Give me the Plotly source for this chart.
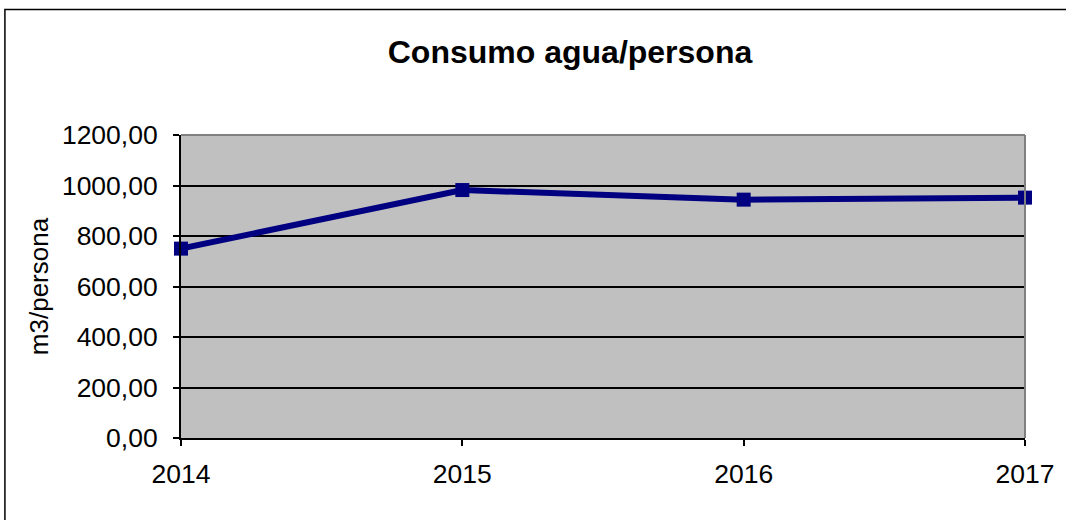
import plotly.graph_objects as go

years = [2014, 2015, 2016, 2017]
consumo = [750, 982, 944, 952]
y_ticks = [0, 200, 400, 600, 800, 1000, 1200]

FONT = "Liberation Sans, Arial, sans-serif"

fig = go.Figure()
fig.add_trace(go.Scatter(
    x=years, y=consumo, mode="lines+markers",
    line=dict(color="#000080", width=6),
    marker=dict(symbol="square", size=14, color="#000080"),
    cliponaxis=False, showlegend=False,
))

L, R, T, B = 181, 39, 135, 82
W, H = 1066, 520
pw, ph = W - L - R, H - T - B

fig.update_layout(
    width=W, height=H,
    margin=dict(l=L, r=R, t=T, b=B),
    paper_bgcolor="white", plot_bgcolor="#C0C0C0",
    separators=",.",
    font=dict(family=FONT, size=26, color="black"),
    title=dict(text="<b>Consumo agua/persona</b>", x=570 / W, xanchor="center",
               y=1 - 52 / H, yanchor="middle", xref="container", yref="container",
               font=dict(family=FONT, size=32, color="black")),
    xaxis=dict(range=[2014, 2017], tickvals=years, ticktext=[str(v) for v in years],
               showgrid=False, zeroline=False, showline=True, linecolor="black", linewidth=2,
               ticks="outside", ticklen=6, tickcolor="black", tickwidth=2,
               tickfont=dict(size=26.5), ticklabelstandoff=5),
    yaxis=dict(range=[0, 1200], tickvals=y_ticks, tickformat=".2f",
               showgrid=True, gridcolor="black", gridwidth=1.5, zeroline=False,
               showline=True, linecolor="black", linewidth=2,
               ticks="outside", ticklen=6, tickcolor="black", tickwidth=2,
               tickfont=dict(size=26.5), ticklabelstandoff=10,
               title=dict(text="m3/persona", font=dict(size=26), standoff=6)),
)

# gray top and right plot-area border
fig.add_shape(type="line", xref="paper", yref="paper", x0=0, x1=1, y0=1, y1=1,
              line=dict(color="#808080", width=2), layer="above")
fig.add_shape(type="line", xref="paper", yref="paper", x0=1, x1=1, y0=0, y1=1,
              line=dict(color="#808080", width=2), layer="above")

# outer chart-area border (extends beyond the cropped image on right and bottom)
fig.add_shape(type="rect", xref="paper", yref="paper",
              x0=(4.5 - L) / pw, x1=(W + 20 - L) / pw,
              y0=-(B + 20) / ph, y1=(H - B - 9.5) / ph,
              line=dict(color="black", width=1.5), fillcolor="rgba(0,0,0,0)", layer="below")

fig.write_html("out.html", config={"displayModeBar": False},
               post_script="document.body.style.margin='0';")
